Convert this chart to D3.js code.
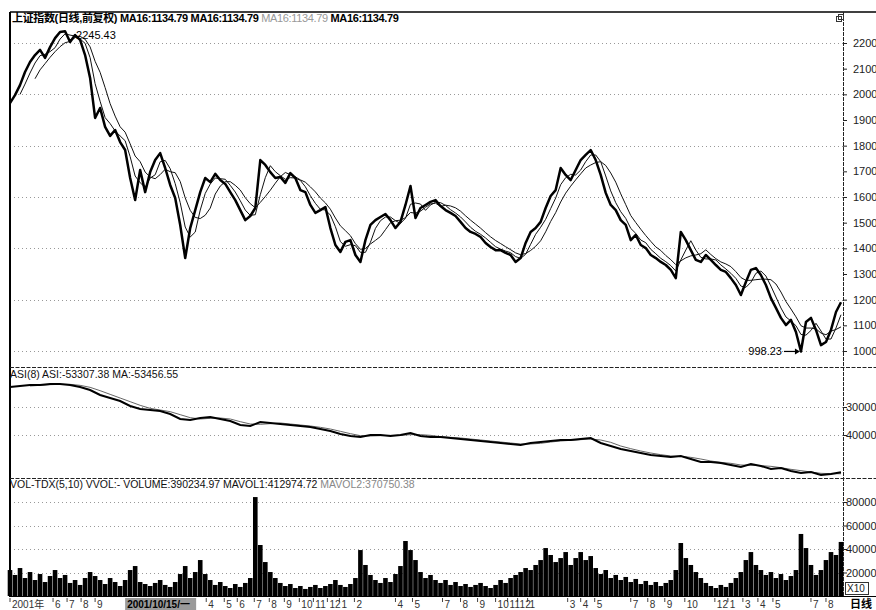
<!DOCTYPE html>
<html>
<head>
<meta charset="utf-8">
<title>上证指数 日线</title>
<script type="text/javascript" src="https://d3js.org/d3.v7.min.js"></script>
<style>
  body { margin:0; background:#fff; }
  svg { display:block; font-family: "Liberation Sans", Arial, "Noto Sans CJK SC", sans-serif; }
</style>
</head>
<body>
<script type="text/javascript">

// daily close (one sample every few trading days)
var closes = [
  1966,1997,2036,2087,2126,2153,2173,2142,2184,2219,
  2243,2245.43,2204,2231,2212,2153,2064,1908,1947,1873,
  1838,1861,1814,1783,1674,1588,1705,1619,1697,1744,
  1771,1713,1647,1596,1491,1362,1479,1549,1619,1674,
  1658,1690,1666,1651,1619,1588,1549,1510,1526,1557,
  1744,1725,1697,1674,1678,1655,1693,1674,1627,1619,
  1569,1538,1549,1561,1479,1413,1386,1425,1432,1374,
  1347,1432,1491,1510,1522,1534,1510,1479,1503,1569,
  1643,1518,1557,1569,1581,1588,1565,1549,1538,1526,
  1503,1479,1464,1456,1444,1421,1405,1393,1393,1382,
  1374,1347,1362,1421,1464,1479,1503,1557,1604,1627,
  1713,1686,1666,1705,1744,1764,1783,1744,1686,1616,
  1569,1549,1510,1491,1432,1452,1413,1401,1374,1362,
  1347,1335,1316,1284,1464,1432,1393,1355,1347,1374,
  1355,1335,1316,1308,1284,1257,1218,1269,1316,1323,
  1296,1257,1206,1168,1129,1101,1121,1074,998.23,1113,
  1129,1082,1023,1035,1082,1152,1190
]

var volumes = [
  22100,17900,23800,15300,20400,13600,18700,11900,17000,22100,
  15300,17900,11100,13600,9400,15300,20400,17000,13600,10200,
  15300,11900,8500,13600,22100,25500,11900,10200,8500,11100,
  13600,9400,7700,11900,18700,25500,15300,20400,30600,18700,
  13600,9400,11900,8500,6800,10200,7700,11100,15300,84200,
  43400,28900,20400,15300,11100,8500,10200,6800,8500,6000,
  7700,9400,6800,8500,10200,13600,9400,7700,10200,15300,
  39100,26400,17900,13600,11100,15300,11900,18700,25500,46800,
  39100,30600,20400,15300,17900,13600,11100,13600,9400,11900,
  8500,10200,7700,9400,11100,8500,6800,9400,13600,11100,
  15300,17900,20400,23800,22100,26400,30600,40800,34900,28900,
  32300,37400,26400,32300,37400,30600,34000,23800,18700,22100,
  15300,17900,13600,16200,11900,14500,10200,12800,9400,11900,
  8500,11100,13600,22100,45100,32300,26400,20400,15300,11100,
  8500,6800,9400,7700,11100,15300,20400,30600,37400,26400,
  22100,17900,20400,15300,18700,13600,17000,22100,52800,40800,
  26400,17900,22100,30600,37400,34900,46000
]

var asi = [
  -22857,-22500,-22143,-22143,-21786,-21786,-22143,-22857,-23929,-25714,
  -26786,-27857,-29643,-30714,-31071,-31429,-32500,-34286,-34643,-33929,
  -33571,-34286,-35000,-36429,-36786,-35357,-35714,-36071,-36429,-36786,
  -37143,-37857,-38571,-39643,-40357,-40714,-40000,-40000,-40357,-40000,
  -39286,-40357,-40714,-40714,-41071,-41429,-41786,-42143,-42500,-42857,
  -43214,-43571,-42857,-42500,-42143,-41786,-41786,-41429,-41071,-42857,
  -43929,-45000,-45714,-46429,-47143,-47500,-47857,-47500,-48571,-49643,
  -49643,-50000,-50714,-51429,-50357,-51071,-52143,-51786,-52857,-53571,
  -53214,-54286,-53929,-53307.38
]

var priceTicks = [1000,1100,1200,1300,1400,1500,1600,1700,1800,1900,2000,2100,2200]
var priceGrid = [1000,1200,1400,1600,1800,2000,2200]
var asiTicks = [-30000,-40000]
var volTicks = [20000,40000,60000,80000]

var monthLabels = ["2001年","6","7","8","9","4","5","6","7","8","9","10","11","12","1","2","4","5",
  "7","8","9","10","11","12","1","3","4","5","7","8","9","10","12","1","3","4","5","7","8"]
var monthIdx = [0,8.6,11.4,14.2,17,39.2,42.8,45.4,48.8,51.8,54.8,57.8,60.6,63.4,65.8,68.8,77,80.4,
  86.4,90,93.4,97,99.4,101.4,103.4,111.4,114,116.8,124,127.4,130.8,134.8,140.8,143.4,146.4,149.4,152.4,160,163]

var cursorLabel = "2001/10/15/一"
var cursorIdx = 23
var peakIdx = 11
var lowIdx = 158

var w = 876, h = 610
var left = 10, axisX = 843

var svg = d3.select("body").append("svg").attr("width", w).attr("height", h)

var xScale = d3.scaleLinear().domain([0, closes.length - 1]).range([left, 841])
var xAsi = d3.scaleLinear().domain([0, asi.length - 1]).range([left, 841])
var yPrice = d3.scaleLinear().domain([1000, 2200]).range([351, 43])
var yAsi = d3.scaleLinear().domain([-40000, -30000]).range([435, 407])
var yVol = d3.scaleLinear().domain([0, 80000]).range([596, 502])

function movingAvg(arr, n) {
  return arr.map(function(d, i) {
    return i < n - 1 ? null : d3.mean(arr.slice(i - n + 1, i + 1))
  })
}

// dotted grid lines
function grid(vals, scale) {
  svg.append("g").selectAll("line")
    .data(vals).enter().append("line")
    .attr("x1", left).attr("x2", axisX)
    .attr("y1", function(d){ return Math.round(scale(d)) + 0.5 })
    .attr("y2", function(d){ return Math.round(scale(d)) + 0.5 })
    .attr("stroke", "#999").attr("stroke-dasharray", "1,3")
}
grid(priceGrid, yPrice)
grid(asiTicks, yAsi)
grid(volTicks, yVol)

// volume bars
svg.append("g").selectAll("rect")
  .data(volumes).enter().append("rect")
  .attr("x", function(d, i){ return xScale(i) - 2.3 })
  .attr("width", 4.6)
  .attr("y", function(d){ return yVol(d) })
  .attr("height", function(d){ return yVol(0) - yVol(d) })
  .attr("fill", "#000")

// price + moving averages
var priceLine = d3.line()
  .defined(function(d){ return d != null })
  .x(function(d, i){ return xScale(i) })
  .y(function(d){ return yPrice(d) })

svg.append("path").datum(movingAvg(closes, 6)).attr("d", priceLine)
  .attr("fill", "none").attr("stroke", "#111").attr("stroke-width", 1)
svg.append("path").datum(movingAvg(closes, 3)).attr("d", priceLine)
  .attr("fill", "none").attr("stroke", "#111").attr("stroke-width", 1)
svg.append("path").datum(closes).attr("d", priceLine)
  .attr("fill", "none").attr("stroke", "#000").attr("stroke-width", 2.5)
  .attr("stroke-linejoin", "round")

// ASI
var asiLine = d3.line()
  .defined(function(d){ return d != null })
  .x(function(d, i){ return xAsi(i) })
  .y(function(d){ return yAsi(d) })
svg.append("path").datum(movingAvg(asi, 3)).attr("d", asiLine)
  .attr("fill", "none").attr("stroke", "#666").attr("stroke-width", 1)
svg.append("path").datum(asi).attr("d", asiLine)
  .attr("fill", "none").attr("stroke", "#000").attr("stroke-width", 2)

// frame
svg.append("line").attr("x1", left).attr("x2", w).attr("y1", 12).attr("y2", 12)
  .attr("stroke", "#000").attr("stroke-width", 1.6)
svg.append("line").attr("x1", left).attr("x2", left).attr("y1", 12).attr("y2", 597)
  .attr("stroke", "#000").attr("stroke-width", 2)
svg.append("line").attr("x1", axisX + 0.5).attr("x2", axisX + 0.5).attr("y1", 12).attr("y2", 597)
  .attr("stroke", "#222").attr("stroke-dasharray", "4,1")
;[367.5, 478.5].forEach(function(y){
  svg.append("line").attr("x1", left).attr("x2", w).attr("y1", y).attr("y2", y)
    .attr("stroke", "#222").attr("stroke-dasharray", "4,1.5")
})
svg.append("line").attr("x1", left).attr("x2", w).attr("y1", 596.5).attr("y2", 596.5)
  .attr("stroke", "#000").attr("stroke-width", 1.2)

// right axes
function rightAxis(scale, vals, pad, fmt) {
  var g = svg.append("g").attr("transform", "translate(" + axisX + ",0)")
    .call(d3.axisRight(scale).tickValues(vals).tickSize(4).tickPadding(pad).tickFormat(fmt))
  g.select(".domain").remove()
  g.selectAll("text").attr("font-size", 11).attr("fill", "#222")
    .attr("font-family", "Liberation Sans, Arial, sans-serif")
  g.selectAll("line").attr("stroke", "#222")
}
rightAxis(yPrice, priceTicks, 6, d3.format("d"))
rightAxis(yAsi, asiTicks, -1, function(d){ return String(Math.abs(d)) })
rightAxis(yVol, volTicks, -1, d3.format("d"))

// titles
var t1 = svg.append("text").attr("x", 12).attr("y", 22).attr("font-size", 11)
  .attr("font-weight", "bold").attr("fill", "#000").attr("letter-spacing", -0.35)
t1.append("tspan").text("上证指数(日线,前复权)")
t1.append("tspan").text(" MA16:1134.79")
t1.append("tspan").text(" MA16:1134.79")
t1.append("tspan").text(" MA16:1134.79").attr("fill", "#999").attr("font-weight", "normal")
t1.append("tspan").text(" MA16:1134.79")

svg.append("text").attr("x", 10).attr("y", 378).attr("font-size", 10.5)
  .attr("fill", "#111").text("ASI(8) ASI:-53307.38 MA:-53456.55")

var t3 = svg.append("text").attr("x", 10).attr("y", 488).attr("font-size", 10.5).attr("fill", "#111")
t3.append("tspan").text("VOL-TDX(5,10) VVOL:-   VOLUME:390234.97 MAVOL1:412974.72 ")
t3.append("tspan").text("MAVOL2:370750.38").attr("fill", "#888")

// peak and low marks
svg.append("text").attr("x", xScale(peakIdx) + 11).attr("y", yPrice(closes[peakIdx]) + 8)
  .attr("font-size", 11).attr("fill", "#000").text("2245.43")

var lx = xScale(lowIdx), ly = yPrice(closes[lowIdx])
svg.append("text").attr("x", lx - 19).attr("y", ly + 4).attr("text-anchor", "end")
  .attr("font-size", 11).attr("fill", "#000").text("998.23")
svg.append("line").attr("x1", lx - 17).attr("x2", lx - 3).attr("y1", ly).attr("y2", ly)
  .attr("stroke", "#000").attr("stroke-width", 1.2)
svg.append("path").attr("d", d3.line()([[lx - 6, ly - 3], [lx - 1, ly], [lx - 6, ly + 3]]))
  .attr("fill", "#000")

// window icon
svg.append("rect").attr("x", 836.5).attr("y", 16.5).attr("width", 5).attr("height", 5)
  .attr("fill", "#fff").attr("stroke", "#333")
svg.append("rect").attr("x", 838.5).attr("y", 14.5).attr("width", 5).attr("height", 5)
  .attr("fill", "none").attr("stroke", "#333")

// X10 box
svg.append("rect").attr("x", 845.5).attr("y", 582.5).attr("width", 23).attr("height", 12)
  .attr("fill", "#fff").attr("stroke", "#333")
svg.append("text").attr("x", 847).attr("y", 592).attr("font-size", 10).attr("fill", "#222").text("X10")

// date axis
var mg = svg.append("g")
mg.selectAll("line").data(monthIdx).enter().append("line")
  .attr("x1", function(d){ return xScale(d) }).attr("x2", function(d){ return xScale(d) })
  .attr("y1", 598).attr("y2", 602).attr("stroke", "#444")
mg.selectAll("text").data(monthLabels).enter().append("text")
  .attr("x", function(d, i){ return xScale(monthIdx[i]) + 2 })
  .attr("y", 608).attr("font-size", 10).attr("fill", "#333")
  .text(function(d){ return d })

svg.append("rect").attr("x", xScale(cursorIdx)).attr("y", 598).attr("width", 71).attr("height", 12)
  .attr("fill", "#9a9a9a")
svg.append("text").attr("x", xScale(cursorIdx) + 2).attr("y", 608).attr("font-size", 10)
  .attr("font-weight", "bold").attr("fill", "#000").text(cursorLabel)

svg.append("text").attr("x", 850).attr("y", 608).attr("font-size", 11)
  .attr("font-weight", "bold").attr("fill", "#000").text("日线")

</script>
</body>
</html>
